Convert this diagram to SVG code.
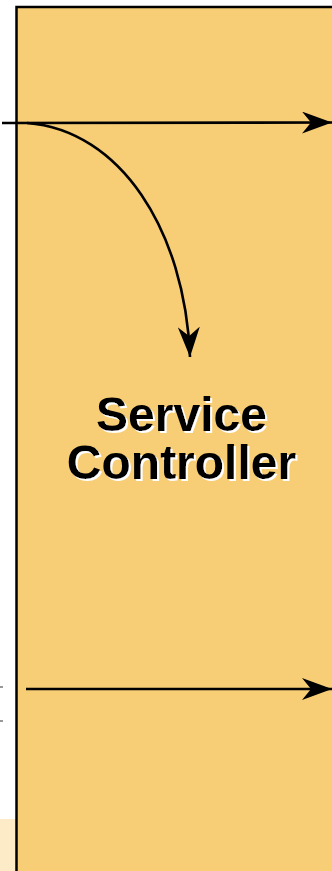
<svg xmlns="http://www.w3.org/2000/svg" width="332" height="871" viewBox="0 0 332 871">
<style>
.conn{fill:none;stroke:#000;stroke-width:2.6}
.lbl{font-family:"Liberation Sans",Arial,sans-serif;font-weight:bold;font-size:48px;text-anchor:middle;fill:#000}
</style>
<defs>
<marker id="ah" viewBox="0 0 30 22" markerWidth="30" markerHeight="22" markerUnits="userSpaceOnUse" refX="30" refY="11" orient="auto">
<path d="M0,0 L30,11 L0,22 L9,11 z" fill="#000"/>
</marker>
<filter id="shadow" x="-10%" y="-20%" width="120%" height="140%">
<feFlood flood-color="#fff" result="w"/>
<feComposite in="w" in2="SourceAlpha" operator="in" result="ws"/>
<feOffset in="ws" dx="2" dy="2" result="off"/>
<feMerge><feMergeNode in="off"/><feMergeNode in="SourceGraphic"/></feMerge>
</filter>
</defs>
<rect x="0" y="0" width="332" height="871" fill="#fff"/>
<rect x="0" y="819" width="17" height="52" fill="#FDEAC6"/>
<g id="service-controller">
<rect x="16.5" y="7" width="330" height="880" fill="#F7CD76" stroke="#000" stroke-width="2.5"/>
<text class="lbl" x="181.5" y="431" filter="url(#shadow)">Service<tspan x="181.5" dy="48">Controller</tspan></text>
</g>
<g id="connectors">
<path class="conn" d="M2,123 L332,122.5" marker-end="url(#ah)"/>
<path class="conn" d="M27,123 C120,130 185,230 190,357" marker-end="url(#ah)"/>
<path class="conn" d="M26,689 L332,689" marker-end="url(#ah)"/>
<path d="M0,687 L3,687 M0,721 L3,721" stroke="#333" stroke-width="1.2" fill="none"/>
</g>
</svg>
